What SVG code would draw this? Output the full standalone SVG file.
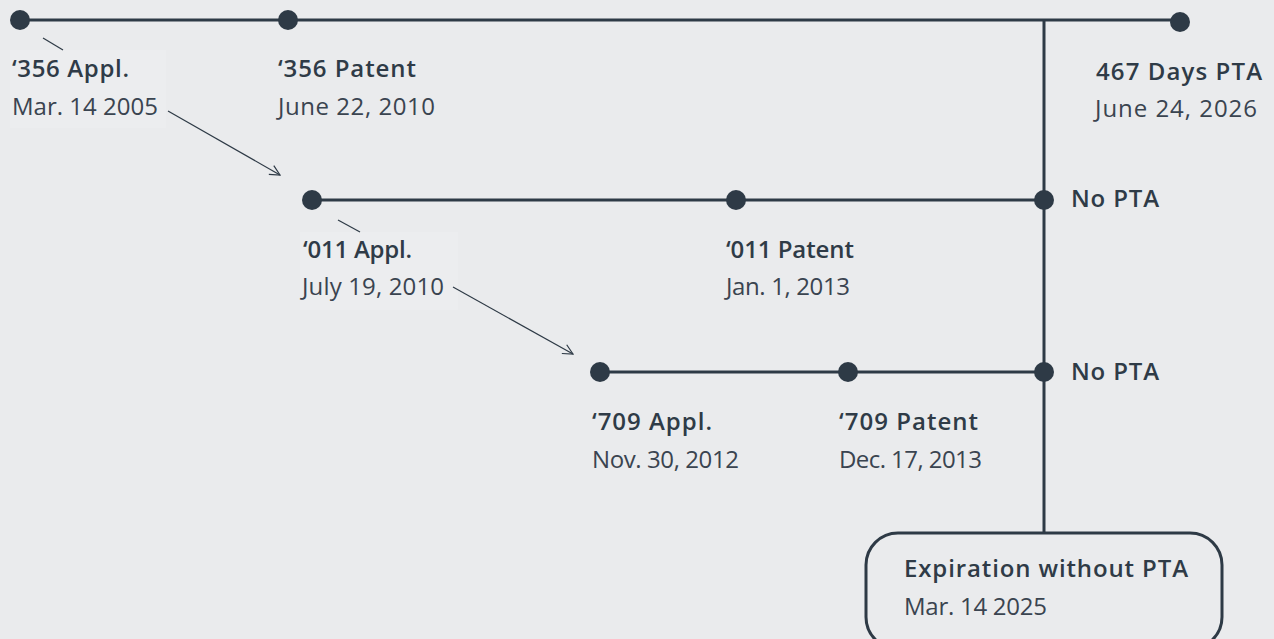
<svg xmlns="http://www.w3.org/2000/svg" width="1274" height="639" viewBox="0 0 1274 639">
<defs>
<style>
.bg{fill:#EAEBED}
.lbg{fill:#ECEDEF}
.tl{stroke:#2E3A46;stroke-width:3;fill:none}
.dot{fill:#2E3A46}
.arr{stroke:#2E3A46;stroke-width:1.2;fill:none}
.t{font-family:"Open Sans","Liberation Sans",sans-serif;font-size:24px;fill:#2F3B47}
.b{font-weight:600}
.r{font-weight:400;fill:#3A4450}
.box{fill:none;stroke:#2E3A46;stroke-width:3}
</style>
<marker id="ah" viewBox="0 0 12 12" refX="11" refY="6" markerWidth="12" markerHeight="12" markerUnits="userSpaceOnUse" orient="auto">
<path d="M1,1 L11,6 L1,11" fill="none" stroke="#2E3A46" stroke-width="1.2"/>
</marker>
</defs>
<rect class="bg" x="0" y="0" width="1274" height="639"/>
<rect class="lbg" x="10" y="50" width="156" height="78"/>
<rect class="lbg" x="300" y="232" width="158" height="78"/>
<g id="connectors">
<line class="tl" x1="20" y1="20" x2="1180" y2="20"/>
<line class="tl" x1="1044" y1="20" x2="1044" y2="533"/>
<line class="tl" x1="312" y1="200" x2="1044" y2="200"/>
<line class="tl" x1="600" y1="372" x2="1044" y2="372"/>
<line class="arr" x1="43" y1="38" x2="63" y2="50"/>
<line class="arr" x1="168" y1="111" x2="280" y2="175" marker-end="url(#ah)"/>
<line class="arr" x1="338" y1="220" x2="360" y2="232"/>
<line class="arr" x1="453" y1="287" x2="573" y2="354" marker-end="url(#ah)"/>
</g>
<g id="n356appl">
<circle class="dot" cx="20" cy="20" r="10"/>
<text class="t b" x="12" y="77" textLength="117" lengthAdjust="spacing">‘356 Appl.</text>
<text class="t r" x="12" y="115" textLength="146" lengthAdjust="spacing">Mar. 14 2005</text>
</g>
<g id="n356pat">
<circle class="dot" cx="288" cy="20" r="10"/>
<text class="t b" x="278" y="77" textLength="138" lengthAdjust="spacing">‘356 Patent</text>
<text class="t r" x="278" y="115" textLength="157" lengthAdjust="spacing">June 22, 2010</text>
</g>
<g id="n467">
<circle class="dot" cx="1180" cy="22" r="10"/>
<text class="t b" x="1096" y="80" textLength="166" lengthAdjust="spacing">467 Days PTA</text>
<text class="t r" x="1095" y="117" textLength="162" lengthAdjust="spacing">June 24, 2026</text>
</g>
<g id="n011appl">
<circle class="dot" cx="312" cy="200" r="10"/>
<text class="t b" x="303" y="258" textLength="109" lengthAdjust="spacing">‘011 Appl.</text>
<text class="t r" x="302" y="295" textLength="142" lengthAdjust="spacing">July 19, 2010</text>
</g>
<g id="n011pat">
<circle class="dot" cx="736" cy="200" r="10"/>
<text class="t b" x="726" y="258" textLength="128" lengthAdjust="spacing">‘011 Patent</text>
<text class="t r" x="726" y="295" textLength="124" lengthAdjust="spacing">Jan. 1, 2013</text>
</g>
<g id="nopta1">
<circle class="dot" cx="1044" cy="200" r="10"/>
<text class="t b" x="1071" y="207" textLength="88" lengthAdjust="spacing">No PTA</text>
</g>
<g id="n709appl">
<circle class="dot" cx="600" cy="372" r="10"/>
<text class="t b" x="592" y="430" textLength="120" lengthAdjust="spacing">‘709 Appl.</text>
<text class="t r" x="592" y="468" textLength="147" lengthAdjust="spacing">Nov. 30, 2012</text>
</g>
<g id="n709pat">
<circle class="dot" cx="848" cy="372" r="10"/>
<text class="t b" x="839" y="430" textLength="139" lengthAdjust="spacing">‘709 Patent</text>
<text class="t r" x="839" y="468" textLength="143" lengthAdjust="spacing">Dec. 17, 2013</text>
</g>
<g id="nopta2">
<circle class="dot" cx="1044" cy="372" r="10"/>
<text class="t b" x="1071" y="380" textLength="88" lengthAdjust="spacing">No PTA</text>
</g>
<g id="expiration">
<rect class="box" x="866" y="533" width="356" height="116" rx="32"/>
<text class="t b" x="904" y="577" textLength="284" lengthAdjust="spacing">Expiration without PTA</text>
<text class="t r" x="904" y="615" textLength="143" lengthAdjust="spacing">Mar. 14 2025</text>
</g>
</svg>
